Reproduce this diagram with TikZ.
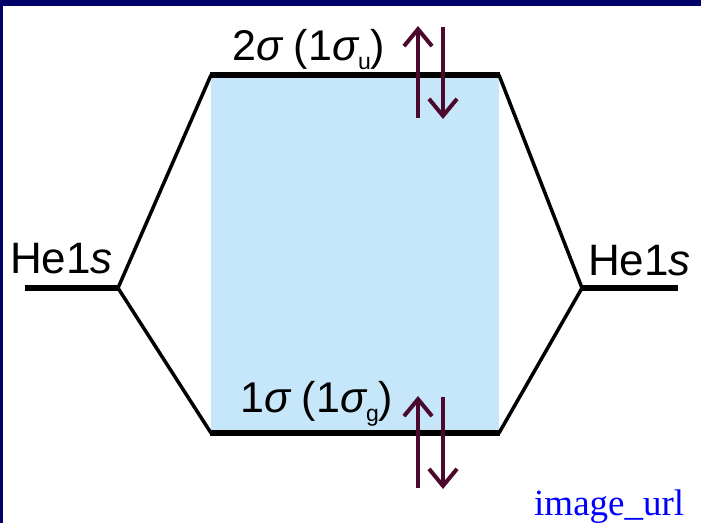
\documentclass[tikz,border=0pt]{standalone}
\usepackage{fontspec}
\setmainfont{Liberation Sans}
\newfontfamily\urlserif{Liberation Serif}
\usetikzlibrary{arrows.meta}
\definecolor{navyframe}{RGB}{0,0,105}
\definecolor{mofill}{RGB}{198,230,250}
\definecolor{spincol}{RGB}{75,10,45}
\definecolor{urlblue}{RGB}{0,0,255}
\newcommand{\mysub}[1]{\raisebox{-9pt}{\fontsize{23}{23}\selectfont #1}}
\begin{document}
\begin{tikzpicture}[x=1pt,y=-1pt,
  levelline/.style={line width=6pt},
  linkline/.style={line width=3.5pt},
  spinarrow/.style={draw=spincol,line width=4pt,-{Straight Barb[length=17pt,width=28pt,line width=4pt]}},
  molabel/.style={inner sep=0pt,anchor=base west,font=\fontsize{43}{43}\selectfont},
  atomlabel/.style={inner sep=0pt,anchor=base west,font=\fontsize{44}{44}\selectfont}]
\fill[navyframe] (0,0) rectangle (701,523);
\fill[white] (3,6) rectangle (701,523);
\useasboundingbox (0,0) rectangle (701,523);
\fill[mofill] (211,75) rectangle (499,433);
% coordinates
\coordinate (L) at (118,288);
\coordinate (Lend) at (25,288);
\coordinate (R) at (582,288);
\coordinate (Rend) at (678,288);
\coordinate (TL) at (211,75);
\coordinate (TR) at (499,75);
\coordinate (BL) at (211,433);
\coordinate (BR) at (499,433);
% correlation lines
\draw[linkline] (L) -- (TL);
\draw[linkline] (L) -- (BL);
\draw[linkline] (R) -- (TR);
\draw[linkline] (R) -- (BR);
% levels
\draw[levelline] (Lend) -- ([xshift=1pt]L);
\draw[levelline] ([xshift=-1pt]R) -- (Rend);
\draw[levelline] ([xshift=-1pt]TL) -- ([xshift=1pt]TR);
\draw[levelline] ([xshift=-1pt]BL) -- ([xshift=1pt]BR);
% electrons
\coordinate (u1s) at (418,118); \coordinate (u1e) at (418,26);
\coordinate (d1s) at (443,27);  \coordinate (d1e) at (443,119);
\coordinate (u2s) at (418,488); \coordinate (u2e) at (418,396);
\coordinate (d2s) at (443,397); \coordinate (d2e) at (443,489);
\draw[spinarrow] (u1s) -- (u1e);
\draw[spinarrow] (d1s) -- (d1e);
\draw[spinarrow] (u2s) -- (u2e);
\draw[spinarrow] (d2s) -- (d2e);
% labels
\node[molabel] (toplab) at (232,60) {2{\itshape σ} (1{\itshape σ}\mysub{u})};
\node[molabel] (botlab) at (240,412) {1{\itshape σ} (1{\itshape σ}\mysub{g})};
\node[atomlabel] (heL) at (10,273) {He1{\itshape s}};
\node[atomlabel] (heR) at (588,275) {He1{\itshape s}};
\node[inner sep=0pt,anchor=base west,text=urlblue,font=\urlserif\fontsize{37}{37}\selectfont] (url) at (534,515) {image\_url};
\end{tikzpicture}
\end{document}
